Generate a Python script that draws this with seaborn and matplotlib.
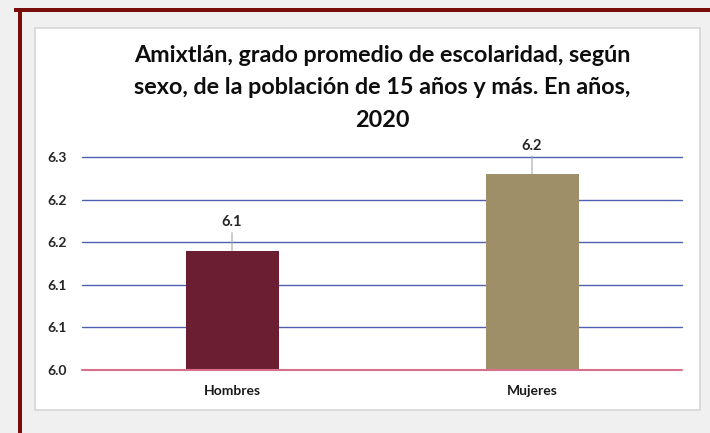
import matplotlib.pyplot as plt
import matplotlib.patches as mpatches
import seaborn as sns
import pandas as pd

# Datos
categorias = ['Hombres', 'Mujeres']
valores = [6.14, 6.23]
colores = ['#6b1e32', '#9e8f68']
ticks_y = [6.0, 6.05, 6.10, 6.15, 6.20, 6.25]
etiquetas_y = ['6.0', '6.1', '6.1', '6.2', '6.2', '6.3']
titulo = ('Amixtlán, grado promedio de escolaridad, según\n'
          'sexo, de la población de 15 años y más. En años,\n2020')

df = pd.DataFrame({'sexo': categorias, 'valor': valores})

sns.set_style('white')
plt.rcParams['font.family'] = ['Lato', 'DejaVu Sans']

W, H = 710, 433
fig = plt.figure(figsize=(W / 100, H / 100), dpi=100)
fig.patch.set_facecolor('#f1f0f1')

# Marco decorativo
fig.patches.append(mpatches.Rectangle((14 / W, 1 - 12 / H), 1, 4 / H, transform=fig.transFigure,
                                      facecolor='#7a0c0c', edgecolor='none', zorder=0))
fig.patches.append(mpatches.Rectangle((18 / W, 0), 4 / W, 1 - 8 / H, transform=fig.transFigure,
                                      facecolor='#7a0c0c', edgecolor='none', zorder=0))
fig.patches.append(mpatches.Rectangle((35 / W, 1 - 410 / H), 665 / W, 382 / H, transform=fig.transFigure,
                                      facecolor='white', edgecolor='#d6d6d6', linewidth=1.2, zorder=0))

ax = fig.add_axes([82 / W, 1 - 370 / H, 600 / W, 213 / H])
ax.set_facecolor('none')
ax.set_zorder(2)

sns.barplot(data=df, x='sexo', y='valor', hue='sexo', palette=colores, width=0.31,
            saturation=1, legend=False, ax=ax, zorder=3, edgecolor='none')

ax.set_xlim(-0.5, 1.5)
ax.set_ylim(6.0, 6.25)
ax.set_yticks(ticks_y)
ax.set_yticklabels(etiquetas_y, fontsize=10, fontweight='bold', color='#262626')
ax.tick_params(axis='y', length=0, pad=11)
ax.tick_params(axis='x', length=0, pad=11)
for lbl in ax.get_xticklabels():
    lbl.set_fontsize(10)
    lbl.set_fontweight('bold')
    lbl.set_color('#1a1a1a')

for y in ticks_y[1:]:
    ax.axhline(y, color='#5060b0', linewidth=1.0, zorder=1, clip_on=False)
ax.axhline(6.0, color='#d8708c', linewidth=1.5, zorder=4, clip_on=False)

for s in ax.spines.values():
    s.set_visible(False)
ax.set_xlabel('')
ax.set_ylabel('')

# Etiquetas de datos con línea guía
for i, v in enumerate(valores):
    ax.annotate(f'{v:.1f}', xy=(i, v), xytext=(i, v + 0.025), ha='center', va='bottom',
                fontsize=10.5, fontweight='bold', color='#262626',
                arrowprops=dict(arrowstyle='-', color='#a6a6a6', lw=0.8, shrinkA=0, shrinkB=0))

fig.text(382 / W, 1 - 88 / H, titulo, ha='center', va='center', fontsize=16.8,
         fontweight='bold', color='#0d0d0d', linespacing=1.65)

fig.savefig('out.png', dpi=100, facecolor=fig.get_facecolor())
